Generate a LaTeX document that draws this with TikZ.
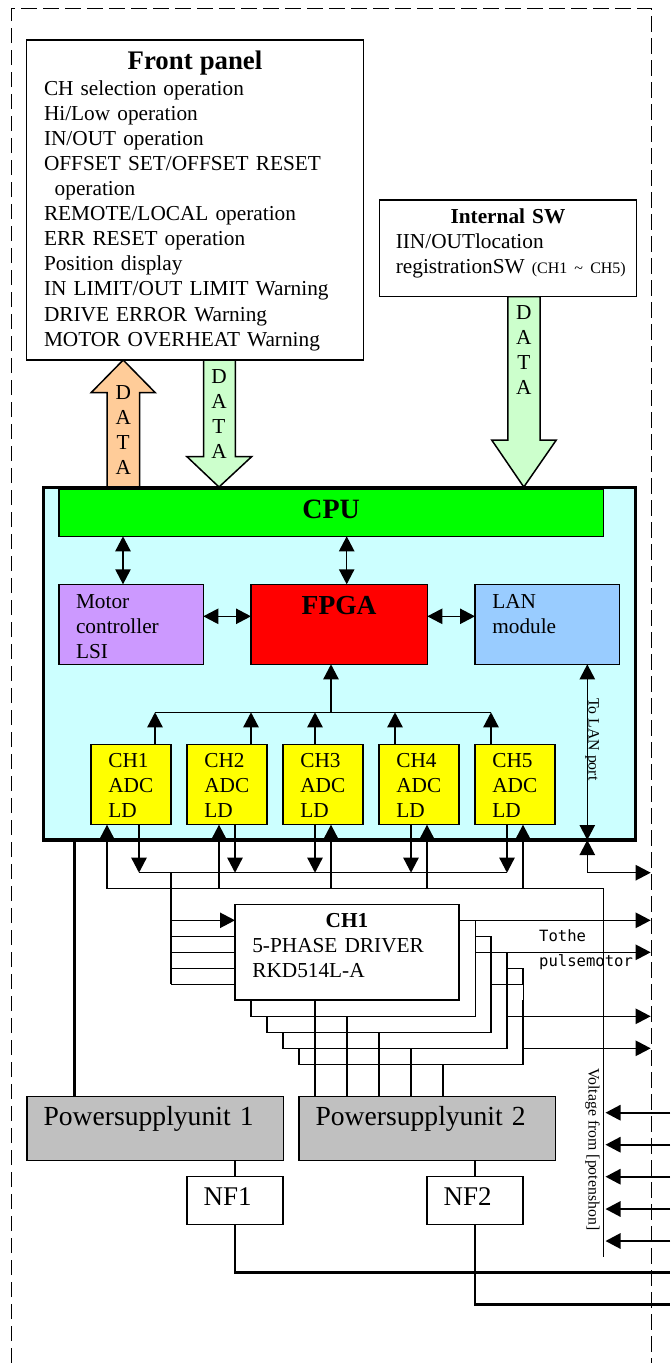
\documentclass[tikz,border=0pt]{standalone}
\usepackage{fontspec}
\setmainfont{Liberation Serif}
\setmonofont{DejaVu Sans Mono}
\usetikzlibrary{arrows.meta}

\begin{document}
\begin{tikzpicture}[x=1pt,y=-1pt]

	\tikzstyle frame lines=[line width=1.6pt, dash pattern=on 15.5pt off 6.5pt];
	\tikzstyle bus lines=[line width=1.5pt];
	\tikzstyle power lines=[line width=2.6pt];
	\tikzstyle signal=[line width=1.5pt, -{Triangle[length=15pt,width=15.3pt]}];
	\tikzstyle both signal=[line width=1.5pt, {Triangle[length=15pt,width=15.3pt]}-{Triangle[length=15pt,width=15.3pt]}];
	\tikzstyle block arrow=[line width=1.5pt, line join=miter];
	\tikzstyle module box=[draw, line width=1.5pt, anchor=north west, outer sep=0pt, inner ysep=0pt, align=left, font=\fontsize{21.3}{25.1}\selectfont];
	\tikzstyle data text=[anchor=base, inner sep=0pt, text width=20pt, align=center, font=\fontsize{21.3}{25.1}\selectfont];
	\tikzstyle side text=[anchor=base west, rotate=-90, inner sep=0pt, font=\fontsize{15.8}{18}\selectfont];

	\useasboundingbox (0,0) rectangle (670,1363);

	\draw[frame lines] (11.5,1363) -- (11.5,8.5) -- (651.5,8.5) -- (651.5,1363);

	\draw[block arrow,fill={rgb,255:red,255;green,204;blue,153}] (107,487) -- (107,392.7) -- (91.1,392.7) -- (123.2,360) -- (155.3,392.7) -- (139.5,392.7) -- (139.5,487) -- cycle;
	\draw[block arrow,fill={rgb,255:red,204;green,255;blue,204}] (203.7,360) -- (203.7,456.7) -- (187,456.7) -- (219,487) -- (251.6,456.7) -- (235.3,456.7) -- (235.3,360) -- cycle;
	\draw[block arrow,fill={rgb,255:red,204;green,255;blue,204}] (507.9,296.5) -- (507.9,440) -- (491.7,440) -- (523.8,487) -- (556.3,440) -- (540,440) -- (540,296.5) -- cycle;
	\node[data text] (orangedata) at (123.2,399) {D\\A\\T\\A};
	\node[data text] (paneldata) at (219,383.5) {D\\A\\T\\A};
	\node[data text] (swdata) at (523.8,319.5) {D\\A\\T\\A};

	\node[module box,fill=white,inner xsep=17.3pt,text width=302pt,text height=29pt,text depth=291pt] (panel) at (26.7,40) {{\centering\fontsize{26.8}{26.8}\selectfont\bfseries Front panel\par}\vspace{1pt}CH selection operation\\
		Hi/Low operation\\
		IN/OUT operation\\
		OFFSET SET/OFFSET RESET\\
		\hspace*{10.7pt}operation\\
		REMOTE/LOCAL operation\\
		ERR RESET operation\\
		Position display\\
		IN LIMIT/OUT LIMIT Warning\\
		DRIVE ERROR Warning\\
		MOTOR OVERHEAT Warning};
	\node[module box,fill=white,inner xsep=16.2pt,text width=224.3pt,text height=23.5pt,text depth=73pt] (intsw) at (379.6,200) {{\centering\bfseries Internal SW\par}IIN/OUTlocation\\
		\mbox{registrationSW {\fontsize{16}{16}\selectfont(CH1 \textasciitilde\ CH5)}}};

	\node[draw,line width=3.4pt,fill={rgb,255:red,204;green,255;blue,255},anchor=north west,inner sep=0pt,outer sep=0pt,minimum width=592.4pt,minimum height=352.7pt] (mainbox) at (43.3,487.3) {};
	\node[module box,fill={rgb,255:red,0;green,255;blue,0},inner xsep=5pt,text width=534.3pt,text height=29pt,text depth=18pt,align=center,font=\fontsize{28}{28}\selectfont\bfseries] (cpu) at (59,489.3) {CPU};
	\node[module box,fill={rgb,255:red,204;green,153;blue,255},inner xsep=17pt,text width=110.3pt,text height=24pt,text depth=56pt] (motor) at (59,584.3) {Motor\\controller\\LSI};
	\node[module box,fill={rgb,255:red,255;green,0;blue,0},inner xsep=5pt,text width=166.3pt,text height=29.7pt,text depth=50.3pt,align=center,font=\fontsize{27.5}{27.5}\selectfont\bfseries] (fpga) at (251,584.3) {FPGA};
	\node[module box,fill={rgb,255:red,153;green,204;blue,255},inner xsep=17.3pt,text width=109.7pt,text height=24pt,text depth=56pt] (lan) at (475,584.3) {LAN\\module};
	\foreach \x/\name/\label in {91/yellowa/CH1,187/yellowb/CH2,283/yellowc/CH3,379/yellowd/CH4,475/yellowe/CH5}
		\node[module box,fill={rgb,255:red,255;green,255;blue,0},inner xsep=17.3pt,text width=45.4pt,text height=23.4pt,text depth=57pt] (\name) at (\x,744.3) {\label\\ADC\\LD};

	\draw[both signal] (123,0 |- cpu.south) -- (123,0 |- motor.north);
	\draw[both signal] (346.7,0 |- cpu.south) -- (346.7,0 |- fpga.north);
	\draw[both signal] (motor.east |- 0,616.3) -- (fpga.west |- 0,616.3);
	\draw[both signal] (fpga.east |- 0,616.3) -- (lan.west |- 0,616.3);

	\coordinate (adcbus) at (331,712.3);
	\draw[signal] (adcbus) -- (331,0 |- fpga.south);
	\draw[bus lines] (155,712.3) -- (491,712.3);
	\foreach \x/\name in {155/yellowa,251/yellowb,315/yellowc,395/yellowd,491/yellowe}
		\draw[signal] (\x,0 |- \name.north) -- (\x,712.3);

	\draw[both signal] (587.3,0 |- lan.south) -- (587.3,0 |- mainbox.south);
	\coordinate (lanport) at (650.7,872.7);
	\draw[both signal] (587.3,0 |- mainbox.south) |- (lanport);
	\node[side text] (lantext) at (588.5,698) {To LAN port};

	\foreach \x/\name in {139/yellowa,235/yellowb,315/yellowc,411/yellowd,507/yellowe}
		\draw[signal] (\x,0 |- \name.south) -- (\x,872.7);
	\draw[bus lines] (139,872.7) -- (507,872.7);
	\foreach \x/\name in {107/yellowa,219/yellowb,331/yellowc,427/yellowd,523/yellowe}
		\draw[signal] (\x,888.7) -- (\x,0 |- \name.south);
	\draw[bus lines] (107,888.7) -- (603.3,888.7) -- (603.3,1256.7);

	\node[module box,fill=white,inner xsep=17.3pt,text width=189.4pt,text height=22.6pt,text depth=72.7pt] (driver) at (235,904.7) {{\centering\bfseries CH1\par}5-PHASE DRIVER\\RKD514L-A};

	\draw[bus lines] (171,872.7) -- (171,984.3);
	\draw[signal] (171,920.3) -- (driver.west |- 0,920.3);
	\foreach \y in {936.3,952.3,968.3,984.3}
		\draw[bus lines] (171,\y) -- (driver.west |- 0,\y);

	\foreach \r/\t/\b/\l in {475.3/920.3/1016.3/251,491/936.3/1032.3/267,507/952.3/1048.3/283}
		\draw[bus lines] (\r-16,\t) -- (\r,\t) -- (\r,\b) -- (\l,\b) -- (\l,\b-16);
	\draw[bus lines] (507,968.3) -- (523,968.3) -- (523,984.3) -- (491,984.3);
	\draw[line width=.6pt] (523,984.3) -- (523,1000);
	\draw[bus lines] (523,1000) -- (523,1064.3) -- (299,1064.3) -- (299,1048.3);

	\foreach \x/\y in {459/920.3,475.3/952.3,507/1016.3,523/1048.3}
		\draw[signal] (\x,\y) -- (650.7,\y);
	\node[anchor=base west,inner sep=0pt,text width=100pt,align=left,font=\fontsize{15.56}{25}\selectfont\ttfamily] (pulsetext) at (539,941.7) {Tothe\\pulsemotor};

	\node[module box,fill={rgb,255:red,192;green,192;blue,192},inner xsep=16.6pt,text width=223.3pt,text height=29pt,text depth=35pt,font=\fontsize{27.6}{27.6}\selectfont] (psua) at (27,1096.7) {Powersupplyunit 1};
	\node[module box,fill={rgb,255:red,192;green,192;blue,192},inner xsep=16.6pt,text width=223.3pt,text height=29pt,text depth=35pt,font=\fontsize{27.6}{27.6}\selectfont] (psub) at (299,1096.7) {Powersupplyunit 2};
	\node[module box,fill=white,inner xsep=16.7pt,text width=62.6pt,text height=28.3pt,text depth=19.7pt,font=\fontsize{27}{27}\selectfont] (nfa) at (187,1176.7) {NF1};
	\node[module box,fill=white,inner xsep=16.7pt,text width=62.6pt,text height=28.3pt,text depth=19.7pt,font=\fontsize{27}{27}\selectfont] (nfb) at (427,1176.7) {NF2};

	\draw[power lines] (74.3,0 |- mainbox.south) -- (74.3,0 |- psua.north);
	\draw[power lines] (315,0 |- driver.south) -- (315,0 |- psub.north);
	\foreach \x/\y in {347/1016.3,379/1032.3,411/1048.3,443/1064.3}
		\draw[power lines] (\x,\y) -- (\x,0 |- psub.north);

	\draw[power lines] (nfa.north |- psua.south) -- (nfa.north);
	\draw[power lines] (nfb.north |- psub.south) -- (nfb.north);
	\coordinate (feeda) at (670,1272.3);
	\coordinate (feedb) at (670,1304.7);
	\draw[power lines] (nfa.south) |- (feeda);
	\draw[power lines] (nfb.south) |- (feedb);

	\foreach \y in {1112.7,1144.7,1176.7,1209,1241}
		\draw[signal,line width=2pt] (670,\y) -- (605.5,\y);
	\node[side text] (voltagetext) at (588.5,1068) {Voltage from [potenshon]};

\end{tikzpicture}
\end{document}
